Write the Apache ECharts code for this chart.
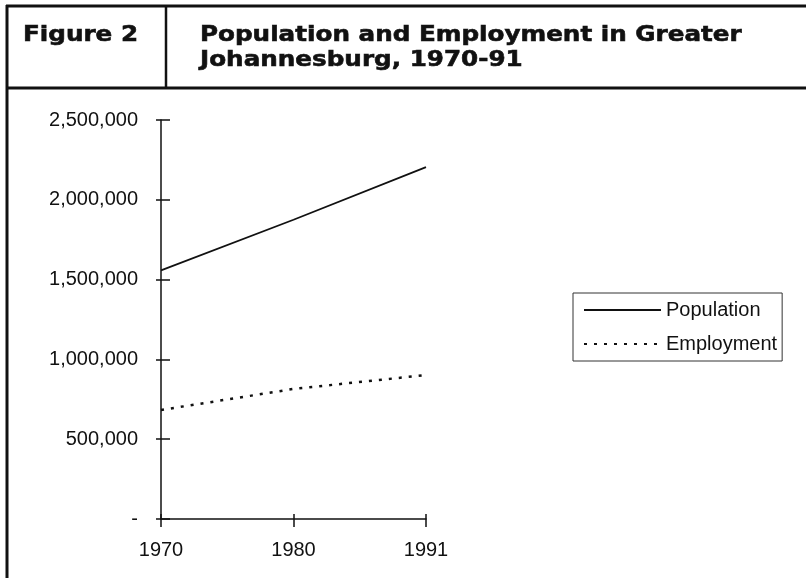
<!DOCTYPE html>
<html>
<head>
<meta charset="utf-8">
<title>Population and Employment in Greater Johannesburg, 1970-91</title>
<script src="https://cdn.jsdelivr.net/npm/echarts@6/dist/echarts.min.js"></script>
<style>
  html, body { margin: 0; padding: 0; background: #fff; }
  #chart { width: 806px; height: 578px; }
</style>
</head>
<body>
<div id="chart"></div>
<script>
// data
const years = ['1970', '1980', '1991']
const population = [1558000, 1875000, 2205000]
const employment = [683000, 815000, 902000]
const yTicks = [0, 500000, 1000000, 1500000, 2000000, 2500000]

const figLabel = 'Figure 2'
const titleLines = ['Population and Employment in Greater', 'Johannesburg, 1970-91']

const ink = '#111'
const labelFont = "'Liberation Sans', Arial, sans-serif"
const headFont = "bold 22px 'DejaVu Sans', sans-serif"

function fmtY(v) {
  if (v === 0) return '-'
  return v.toLocaleString('en-US')
}

const chart = echarts.init(document.getElementById('chart'))

function headText(str, x, y) {
  return {
    type: 'text', x: x, y: y, scaleX: 1.12,
    style: {
      x: 0, y: 0, text: str, font: headFont, fill: ink,
      stroke: ink, lineWidth: 0.6,
      align: 'left', verticalAlign: 'middle'
    }
  }
}

// header box + frame
const frame = [
  { type: 'line', shape: { x1: 7, y1: 5, x2: 7, y2: 578 }, style: { stroke: ink, lineWidth: 3 } },
  { type: 'line', shape: { x1: 6, y1: 6, x2: 806, y2: 6 }, style: { stroke: ink, lineWidth: 3 } },
  { type: 'line', shape: { x1: 166, y1: 6, x2: 166, y2: 88 }, style: { stroke: ink, lineWidth: 2.5 } },
  { type: 'line', shape: { x1: 6, y1: 88, x2: 806, y2: 88 }, style: { stroke: ink, lineWidth: 3 } },
  headText(figLabel, 23, 35),
  headText(titleLines[0], 200, 35),
  headText(titleLines[1], 200, 60)
]

const axisLine = { lineStyle: { color: ink, width: 1.5 } }

chart.setOption({
  animation: false,
  backgroundColor: '#fff',
  graphic: frame,
  grid: { left: 161, right: 380, top: 120, bottom: 59, containLabel: false, outerBoundsMode: 'none' },
  legend: {
    orient: 'vertical',
    left: 573, top: 293,
    borderColor: '#333', borderWidth: 1,
    padding: [7, 5, 7, 10],
    itemWidth: 77, itemHeight: 14, itemGap: 14,
    itemStyle: { opacity: 0 },
    textStyle: { color: ink, fontSize: 20, fontFamily: labelFont },
    data: ['Population', 'Employment']
  },
  xAxis: [
    {
      type: 'category', data: years, boundaryGap: false,
      axisLine: axisLine,
      axisTick: { show: true, length: 8, lineStyle: { color: ink, width: 1.5 } },
      axisLabel: { color: ink, fontSize: 20, fontFamily: labelFont, margin: 21 },
      splitLine: { show: false }
    },
    {
      type: 'category', data: years, boundaryGap: false, position: 'bottom',
      axisLine: { show: false },
      axisTick: { show: true, inside: true, length: 5, lineStyle: { color: ink, width: 1.5 } },
      axisLabel: { show: false },
      splitLine: { show: false }
    }
  ],
  yAxis: [
    {
      type: 'value', min: yTicks[0], max: yTicks[yTicks.length - 1], interval: yTicks[1] - yTicks[0],
      axisLine: Object.assign({ show: true }, axisLine),
      axisTick: { show: true, length: 5, lineStyle: { color: ink, width: 1.5 } },
      axisLabel: { color: ink, fontSize: 20, fontFamily: labelFont, margin: 23, formatter: fmtY },
      splitLine: { show: false }
    },
    {
      type: 'value', min: yTicks[0], max: yTicks[yTicks.length - 1], interval: yTicks[1] - yTicks[0],
      position: 'left',
      axisLine: { show: false },
      axisTick: { show: true, inside: true, length: 9, lineStyle: { color: ink, width: 1.5 } },
      axisLabel: { show: false },
      splitLine: { show: false }
    }
  ],
  series: [
    {
      name: 'Population', type: 'line', data: population, symbol: 'none',
      lineStyle: { color: ink, width: 1.8, type: 'solid' },
      itemStyle: { color: ink }
    },
    {
      name: 'Employment', type: 'line', data: employment, symbol: 'none',
      lineStyle: { color: ink, width: 2.5, type: [3, 7] },
      itemStyle: { color: ink }
    }
  ]
})
</script>
</body>
</html>
